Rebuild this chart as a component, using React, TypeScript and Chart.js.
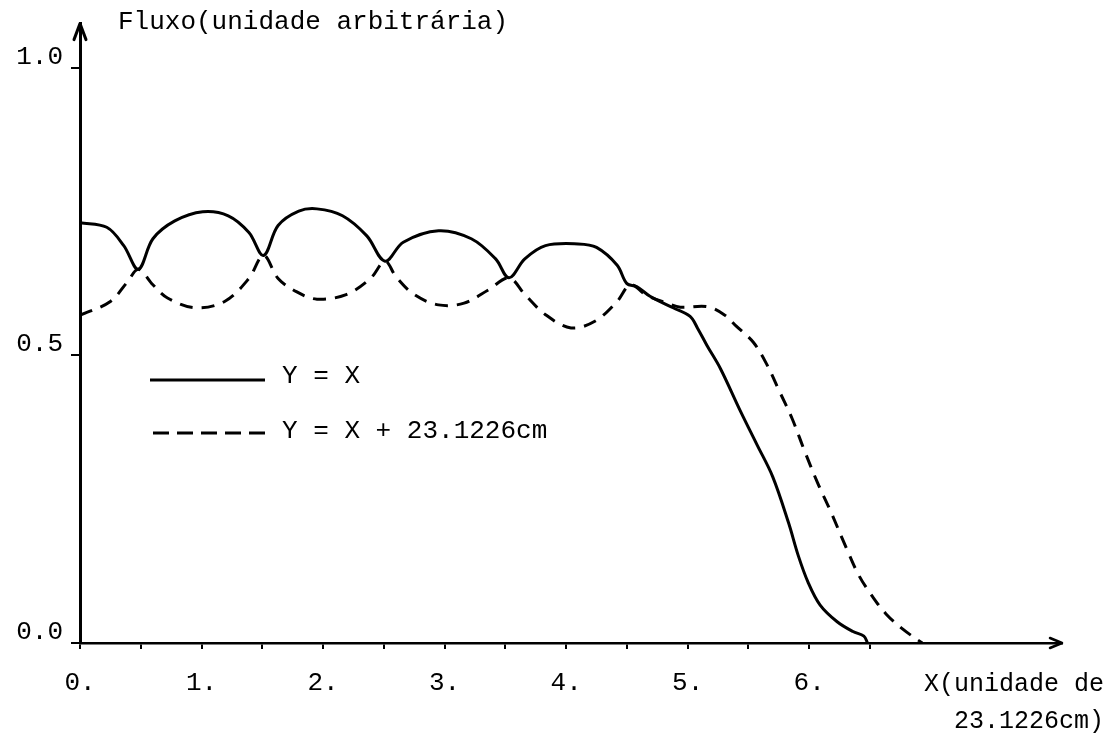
import React, { useEffect, useRef } from 'react';
import { Chart, registerables } from 'chart.js';

Chart.register(...registerables);

// ---- data ----
const solidX = [0.0, 0.22, 0.36, 0.48, 0.6, 0.78, 1.01, 1.22, 1.39, 1.51, 1.63, 1.8, 1.95, 2.16, 2.36, 2.51, 2.66, 2.95, 3.22, 3.42, 3.53, 3.66, 3.83, 4.1, 4.25, 4.42, 4.5, 4.58, 4.69, 4.88, 5.02, 5.08, 5.16, 5.27, 5.43, 5.57, 5.7, 5.83, 5.91, 5.99, 6.09, 6.23, 6.36, 6.45, 6.48];
const solidY = [0.731, 0.723, 0.691, 0.65, 0.703, 0.734, 0.75, 0.743, 0.714, 0.674, 0.726, 0.751, 0.755, 0.743, 0.708, 0.664, 0.697, 0.717, 0.703, 0.668, 0.635, 0.668, 0.691, 0.694, 0.688, 0.657, 0.625, 0.62, 0.603, 0.583, 0.568, 0.548, 0.517, 0.477, 0.405, 0.345, 0.289, 0.209, 0.152, 0.106, 0.066, 0.037, 0.02, 0.012, 0.0];

const dashedX = [0.0, 0.25, 0.39, 0.48, 0.6, 0.72, 0.95, 1.19, 1.39, 1.51, 1.63, 1.78, 1.95, 2.19, 2.39, 2.51, 2.6, 2.75, 2.95, 3.16, 3.36, 3.53, 3.66, 3.83, 4.04, 4.24, 4.42, 4.53, 4.66, 4.83, 4.94, 5.16, 5.3, 5.4, 5.54, 5.65, 5.75, 5.86, 5.96, 6.07, 6.17, 6.31, 6.41, 6.52, 6.63, 6.77, 6.93];
const dashedY = [0.57, 0.594, 0.628, 0.65, 0.623, 0.6, 0.583, 0.594, 0.634, 0.674, 0.634, 0.611, 0.598, 0.606, 0.634, 0.664, 0.637, 0.606, 0.588, 0.591, 0.614, 0.635, 0.606, 0.571, 0.548, 0.56, 0.594, 0.623, 0.605, 0.591, 0.584, 0.585, 0.571, 0.551, 0.523, 0.485, 0.44, 0.39, 0.335, 0.278, 0.232, 0.163, 0.117, 0.081, 0.051, 0.024, 0.0];

const xTickValues = [0, 0.5, 1, 1.5, 2, 2.5, 3, 3.5, 4, 4.5, 5, 5.5, 6, 6.5];
const xTickLabels = ['0.', '', '1.', '', '2.', '', '3.', '', '4.', '', '5.', '', '6.', ''];
const yTickValues = [0, 0.5, 1.0];
const yTickLabels = ['0.0', '0.5', '1.0'];
const seriesLabels = ['Y = X', 'Y = X + 23.1226cm'];
const yAxisTitle = 'Fluxo(unidade arbitrária)';
const xAxisTitle = ['X(unidade de', '23.1226cm)'];

const FONT = '"Liberation Mono", "DejaVu Sans Mono", monospace';

const overlayPlugin = {
  id: 'overlay',
  afterDraw(chart: any) {
    const ctx = chart.ctx as CanvasRenderingContext2D;
    const { left, right, top, bottom } = chart.chartArea;
    ctx.save();
    ctx.strokeStyle = '#000';
    ctx.fillStyle = '#000';
    ctx.lineCap = 'round';
    ctx.lineJoin = 'round';
    // arrow heads
    ctx.lineWidth = 3;
    ctx.beginPath();
    ctx.moveTo(left - 6, top + 16);
    ctx.lineTo(left, top);
    ctx.lineTo(left + 6, top + 16);
    ctx.stroke();
    ctx.lineWidth = 2.5;
    ctx.beginPath();
    ctx.moveTo(right - 12, bottom - 5);
    ctx.lineTo(right, bottom);
    ctx.lineTo(right - 12, bottom + 5);
    ctx.stroke();

    // axis titles
    ctx.font = `26px ${FONT}`;
    ctx.textBaseline = 'middle';
    ctx.textAlign = 'left';
    ctx.fillText(yAxisTitle, left + 38, 22);
    ctx.font = `25px ${FONT}`;
    ctx.textAlign = 'right';
    ctx.fillText(xAxisTitle[0], 1104, 684);
    ctx.fillText(xAxisTitle[1], 1104, 721);

    // legend
    ctx.lineCap = 'butt';
    ctx.lineWidth = 3;
    ctx.beginPath();
    ctx.moveTo(150, 380);
    ctx.lineTo(265, 380);
    ctx.stroke();
    ctx.setLineDash([16, 8]);
    ctx.beginPath();
    ctx.moveTo(153, 433);
    ctx.lineTo(265, 433);
    ctx.stroke();
    ctx.setLineDash([]);
    ctx.font = `26px ${FONT}`;
    ctx.textAlign = 'left';
    ctx.fillText(seriesLabels[0], 282, 376);
    ctx.fillText(seriesLabels[1], 282, 431);
    ctx.restore();
  },
};

export default function App() {
  const ref = useRef<HTMLCanvasElement | null>(null);
  useEffect(() => {
    if (!ref.current) return;
    const chart = new Chart(ref.current, {
      type: 'line',
      data: {
        datasets: [
          {
            label: seriesLabels[0],
            data: solidX.map((x, i) => ({ x, y: solidY[i] })),
            borderColor: '#000',
            borderWidth: 3,
            pointRadius: 0,
            tension: 0.35,
            fill: false,
          },
          {
            label: seriesLabels[1],
            data: dashedX.map((x, i) => ({ x, y: dashedY[i] })),
            borderColor: '#000',
            borderWidth: 3,
            borderDash: [13, 9],
            pointRadius: 0,
            tension: 0.35,
            fill: false,
          },
        ],
      },
      options: {
        responsive: false,
        maintainAspectRatio: false,
        animation: false,
        devicePixelRatio: 1,
        layout: { padding: { left: 0, top: 15, right: 51, bottom: 0 } },
        plugins: {
          legend: { display: false },
          tooltip: { enabled: false },
          title: { display: false },
        },
        scales: {
          x: {
            type: 'linear',
            min: 0,
            max: 8.08,
            afterFit: (s: any) => {
              s.height = 90;
            },
            afterBuildTicks: (s: any) => {
              s.ticks = xTickValues.map((v) => ({ value: v }));
            },
            ticks: {
              callback: (_v: any, i: number) => xTickLabels[i],
              font: { family: FONT, size: 26 },
              color: '#000',
              padding: 19,
              maxRotation: 0,
              autoSkip: false,
            },
            grid: {
              drawOnChartArea: false,
              drawTicks: true,
              tickLength: 6,
              color: '#000',
              lineWidth: 2,
            },
            border: { display: true, color: '#000', width: 2.5 },
          },
          y: {
            type: 'linear',
            min: 0,
            max: 1.0772,
            afterFit: (s: any) => {
              s.width = 80;
            },
            afterBuildTicks: (s: any) => {
              s.ticks = yTickValues.map((v) => ({ value: v }));
            },
            ticks: {
              callback: (_v: any, i: number) => yTickLabels[i],
              font: { family: FONT, size: 26 },
              color: '#000',
              padding: 8,
              labelOffset: -11,
              autoSkip: false,
            },
            grid: {
              drawOnChartArea: false,
              drawTicks: true,
              tickLength: 9,
              color: '#000',
              lineWidth: 2,
            },
            border: { display: true, color: '#000', width: 3 },
          },
        },
      },
      plugins: [overlayPlugin],
    } as any);
    return () => chart.destroy();
  }, []);

  return (
    <div style={{ position: 'absolute', left: 0, top: 0, width: 1113, height: 733, background: '#fff' }}>
      <canvas ref={ref} width={1113} height={733} style={{ width: 1113, height: 733, display: 'block' }} />
    </div>
  );
}
